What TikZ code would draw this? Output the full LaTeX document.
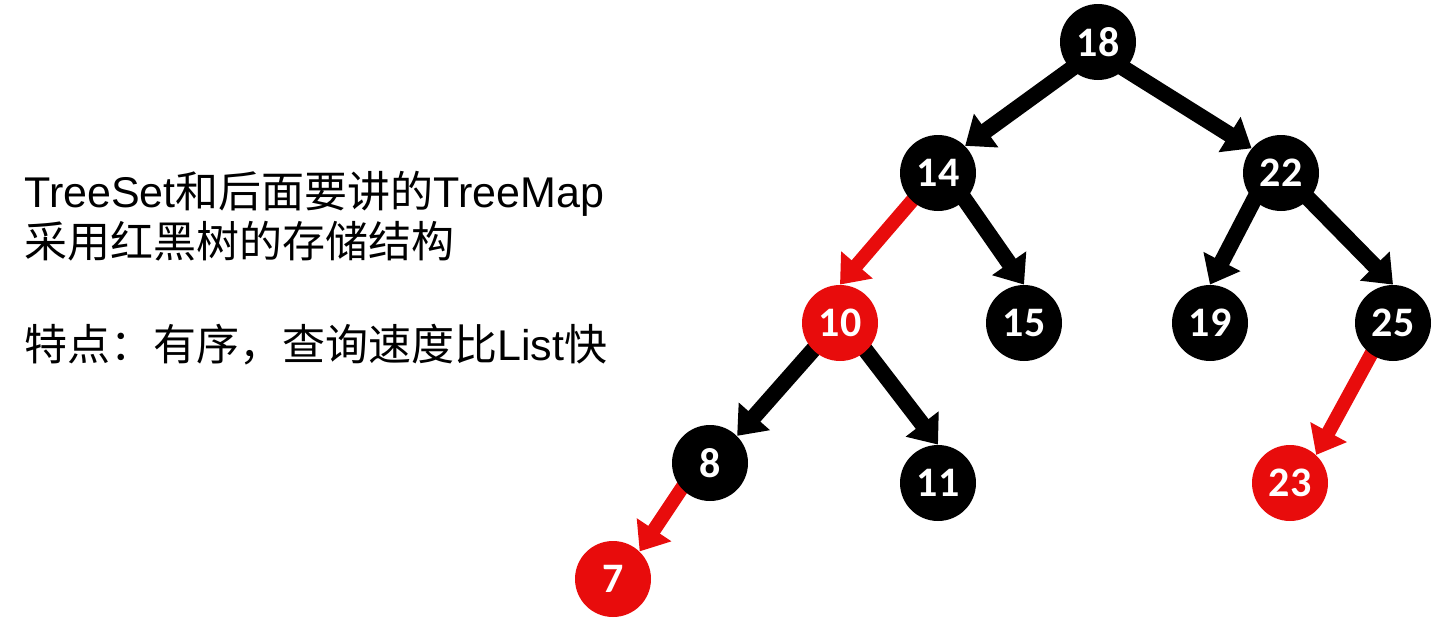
\documentclass[tikz,border=0pt]{standalone}
\usepackage{fontspec}
\setmainfont{Liberation Sans}
\newfontfamily\cjk{Noto Sans CJK SC}
\newfontfamily\numfont{Carlito}
\usetikzlibrary{arrows.meta}
\usetikzlibrary{backgrounds}
\definecolor{rbred}{RGB}{232,12,12}
\tikzstyle{blacknode} = [circle, fill=black, text=white, minimum size=38pt, inner sep=0pt, font=\numfont\bfseries\fontsize{21}{21}\selectfont]
\tikzstyle{rednode} = [blacknode, fill=rbred]
\tikzstyle{link} = [line width=8pt, shorten <=-4pt, -{Triangle[width=20pt,length=13pt]}]
\tikzstyle{redlink} = [link, line width=7pt, draw=rbred]
\tikzstyle{textline} = [anchor=base west, inner sep=0pt, font=\fontsize{21.5}{26}\selectfont]

\begin{document}
\begin{tikzpicture}[x=0.5pt, y=-0.5pt]
\useasboundingbox (0,0) rectangle (1448,637);

\node[textline] (line1) at (24,207) {TreeSet{\cjk 和后面要讲的}TreeMap};
\node[textline] (line2) at (24,257) {\cjk 采用红黑树的存储结构};
\node[textline] (line3) at (24,360) {{\cjk 特点：有序，查询速度比}List{\cjk 快}};

\node[blacknode] (k18) at (1098,42) {18};
\node[blacknode] (k14) at (938,173) {14};
\node[blacknode] (k22) at (1281,173) {22};
\node[rednode] (k10) at (840,323) {10};
\node[blacknode] (k15) at (1024,323) {15};
\node[blacknode] (k19) at (1210,323) {19};
\node[blacknode] (k25) at (1393,323) {25};
\node[blacknode] (k8) at (710,463) {8};
\node[blacknode] (k11) at (938,483) {11};
\node[rednode] (k23) at (1290,483) {23};
\node[rednode] (k7) at (613,579) {7};

\begin{scope}[on background layer]
\draw[link] (k18.225) -- (k14.45);
\draw[link] (k18.315) -- (k22.140);
\draw[redlink] (k14.227) -- (k10.north);
\draw[link] (k14.315) -- (k15.north);
\draw[link] (k22.225) -- (k19.north);
\draw[link] (k22.317) -- (k25.north);
\draw[link] (k10.225) -- (k8.45);
\draw[link] (k10.313) -- (k11.north);
\draw[redlink] (k8.222) -- (k7.46);
\draw[redlink] (k25.235) -- (k23.47);
\end{scope}
\end{tikzpicture}
\end{document}
